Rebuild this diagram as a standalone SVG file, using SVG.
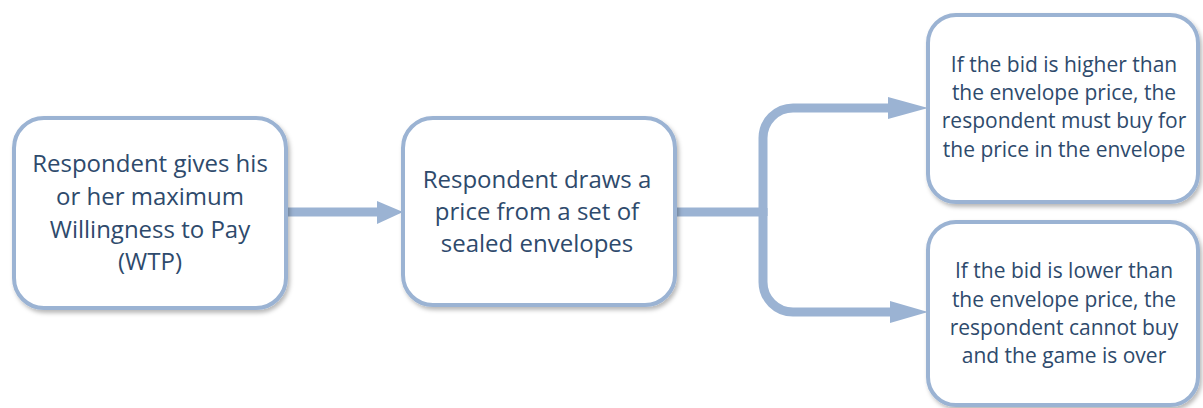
<svg xmlns="http://www.w3.org/2000/svg" width="1203" height="408" viewBox="0 0 1203 408">
<defs>
<filter id="sh" x="-10%" y="-10%" width="125%" height="125%">
<feDropShadow dx="2" dy="3" stdDeviation="2" flood-color="#000" flood-opacity="0.28"/>
</filter>
<style>
.box{fill:#fff;stroke:#9bb3d3;stroke-width:4;filter:url(#sh)}
.t{font-family:"Open Sans","Noto Sans",sans-serif;fill:#2e4a6c;text-anchor:middle}
.big{font-size:24px}
.sm{font-size:21px}
.conn{fill:none;stroke:#9bb3d3;stroke-width:9}
.head{fill:#9bb3d3}
</style>
</defs>
<rect width="1203" height="408" fill="#fff"/>
<g id="connectors">
<path class="conn" d="M286,212 H379"/>
<polygon class="head" points="377,201 403,212 377,224"/>
<path class="conn" d="M675,212 H763"/>
<path class="conn" d="M763,216 V138 A30,30 0 0 1 793,108 H890"/>
<path class="conn" d="M763,208 V282 A30,30 0 0 0 793,312 H892"/>
<polygon class="head" points="888,97 928,108 888,119"/>
<polygon class="head" points="890,301 928,312 890,323"/>
</g>
<g id="node1">
<rect class="box" x="14" y="118" width="272" height="190" rx="30"/>
<text class="t big" x="150" y="172">Respondent gives his</text>
<text class="t big" x="150" y="205">or her maximum</text>
<text class="t big" x="150" y="238">Willingness to Pay</text>
<text class="t big" x="150" y="270">(WTP)</text>
</g>
<g id="node2">
<rect class="box" x="403" y="118" width="272" height="187" rx="30"/>
<text class="t big" x="537" y="188">Respondent draws a</text>
<text class="t big" x="537" y="220">price from a set of</text>
<text class="t big" x="537" y="252">sealed envelopes</text>
</g>
<g id="node3">
<rect class="box" x="928" y="15" width="270" height="187" rx="28"/>
<text class="t sm" x="1064" y="72">If the bid is higher than</text>
<text class="t sm" x="1064" y="100">the envelope price, the</text>
<text class="t sm" x="1064" y="128">respondent must buy for</text>
<text class="t sm" x="1064" y="157">the price in the envelope</text>
</g>
<g id="node4">
<rect class="box" x="928" y="222" width="270" height="183" rx="28"/>
<text class="t sm" x="1064" y="278">If the bid is lower than</text>
<text class="t sm" x="1064" y="307">the envelope price, the</text>
<text class="t sm" x="1064" y="335">respondent cannot buy</text>
<text class="t sm" x="1064" y="363">and the game is over</text>
</g>
</svg>
